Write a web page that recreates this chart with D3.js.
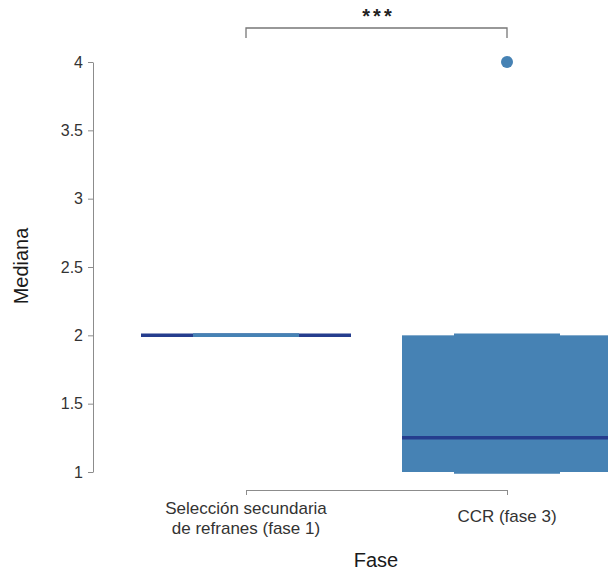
<!DOCTYPE html>
<html>
<head>
<meta charset="utf-8">
<script src="https://cdn.jsdelivr.net/npm/d3@7"></script>
<style>
  html, body { margin: 0; padding: 0; background: #fff; }
  svg { display: block; font-family: "Liberation Sans", Arial, sans-serif; }
</style>
</head>
<body>
<svg id="chart" width="608" height="571"></svg>
<script>
// Box plot summaries per phase
const categories = ["Selección secundaria\nde refranes (fase 1)", "CCR (fase 3)"];
const q1Values = [2, 1];
const medianValues = [2, 1.25];
const q3Values = [2, 2];
const whiskerLow = [2, 1];
const whiskerHigh = [2, 2];
const outliers = [[], [4]];
const yTicks = [1, 1.5, 2, 2.5, 3, 3.5, 4];
const significance = "***";

const boxColor = "#4682b4";
const medianColor = "#253d8e";
const axisColor = "#8c8c8c";
const textColor = "#333";
const fontStack = "Liberation Sans, Arial, sans-serif";

const svg = d3.select("#chart");

const y = d3.scaleLinear().domain([1, 4]).range([472, 62]);
const x = d3.scalePoint().domain(categories).range([246, 507]);

const boxHalf = 105;
const capHalf = 53;

const plot = svg.append("g");

categories.forEach((c, i) => {
  const cx = x(c);
  // box
  plot.append("rect")
    .attr("x", cx - boxHalf)
    .attr("y", y(q3Values[i]))
    .attr("width", boxHalf * 2)
    .attr("height", Math.max(0, y(q1Values[i]) - y(q3Values[i])))
    .attr("fill", boxColor);
  // median
  plot.append("line")
    .attr("x1", cx - boxHalf).attr("x2", cx + boxHalf)
    .attr("y1", y(medianValues[i])).attr("y2", y(medianValues[i]))
    .attr("stroke", medianColor).attr("stroke-width", 3.5);
  // whisker caps
  [whiskerLow[i], whiskerHigh[i]].forEach(v => {
    plot.append("line")
      .attr("x1", cx - capHalf).attr("x2", cx + capHalf)
      .attr("y1", y(v)).attr("y2", y(v))
      .attr("stroke", boxColor).attr("stroke-width", 3.5);
  });
  // outliers
  outliers[i].forEach(v => {
    plot.append("circle")
      .attr("cx", cx).attr("cy", y(v)).attr("r", 6)
      .attr("fill", boxColor);
  });
});

// Y axis
const yAxis = svg.append("g").attr("transform", "translate(93,0)")
  .call(d3.axisLeft(y).tickValues(yTicks).tickSize(5).tickPadding(5).tickSizeOuter(0)
    .tickFormat(d3.format("")));
yAxis.select(".domain").attr("stroke", axisColor);
yAxis.selectAll(".tick line").attr("stroke", axisColor);
yAxis.selectAll(".tick text").attr("fill", textColor)
  .style("font-size", "16px").style("font-family", fontStack);

// X axis
const xAxis = svg.append("g").attr("transform", "translate(0,490)")
  .call(d3.axisBottom(x).tickSize(5).tickSizeOuter(0).tickFormat(""));
xAxis.select(".domain").attr("stroke", axisColor);
xAxis.selectAll(".tick line").attr("stroke", axisColor);

categories.forEach(c => {
  const lines = c.split("\n");
  const t = svg.append("text")
    .attr("x", x(c))
    .attr("text-anchor", "middle")
    .attr("fill", textColor)
    .style("font-size", "17px");
  const y0 = lines.length > 1 ? 514 : 522;
  lines.forEach((l, k) => {
    t.append("tspan").attr("x", x(c)).attr("y", y0 + k * 20).text(l);
  });
});

// Axis titles
svg.append("text")
  .attr("x", 376).attr("y", 567)
  .attr("text-anchor", "middle").attr("fill", "#1a1a1a")
  .style("font-size", "20px").text("Fase");

svg.append("text")
  .attr("transform", "translate(28,266) rotate(-90)")
  .attr("text-anchor", "middle").attr("fill", "#1a1a1a")
  .style("font-size", "20px").text("Mediana");

// Significance bracket
const xa = x(categories[0]), xb = x(categories[1]);
svg.append("path")
  .attr("d", `M${xa},38V28H${xb}V38`)
  .attr("fill", "none").attr("stroke", "#777").attr("stroke-width", 1.3);
svg.append("text")
  .attr("x", (xa + xb) / 2 + 2).attr("y", 23)
  .attr("text-anchor", "middle").attr("fill", "#222")
  .style("font-size", "20px").style("font-weight", "bold").style("letter-spacing", "3px")
  .text(significance);
</script>
</body>
</html>
